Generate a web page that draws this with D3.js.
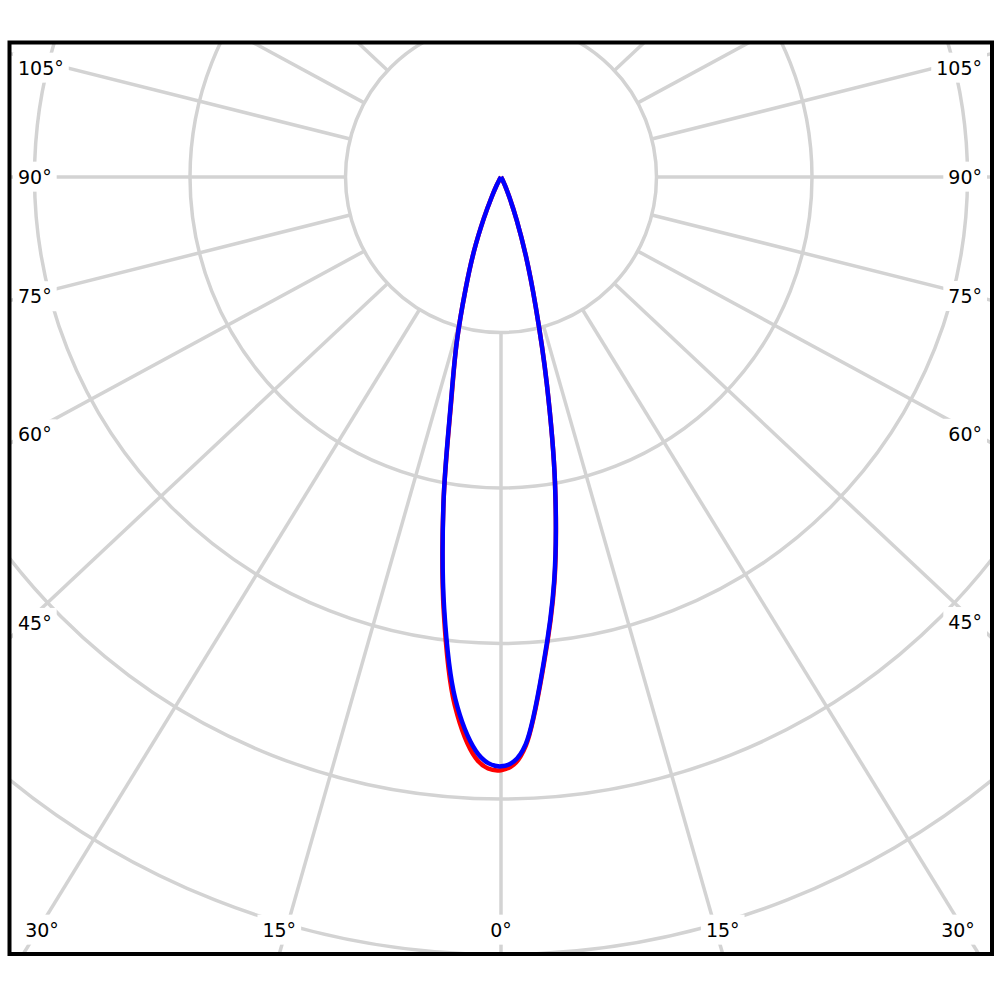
<!DOCTYPE html>
<html>
<head>
<meta charset="utf-8">
<script src="https://cdn.jsdelivr.net/npm/d3@7"></script>
<style>
body { margin: 0; background: #fff; }
svg text { font-family: "DejaVu Sans", sans-serif; font-size: 19px; fill: #000; }
</style>
</head>
<body>
<div id="chart"><svg width="1000" height="1000"></svg></div>
<script>
// gamma angles (deg from nadir) and intensities per half plane
const angles = [0, 1.25, 2.5, 5, 7.5, 10, 12.5, 15, 17.5, 20, 22.5, 25, 27.5, 30, 35, 40, 45, 50, 55, 60, 65, 70, 75, 80, 85, 90];
const redLeft   = [381.5, 380.5, 374, 341, 282, 213, 148, 110, 76, 51, 29, 14, 6, 2, 0.5, 0, 0, 0, 0, 0, 0, 0, 0, 0, 0, 0];
const redRight  = [381.5, 378, 366, 315, 263, 200, 136, 86, 53, 29.5, 14, 6, 2.5, 1, 0.5, 0, 0, 0, 0, 0, 0, 0, 0, 0, 0, 0];
const blueLeft  = [379, 377, 369.5, 337, 280, 213, 149, 110, 76, 51, 29, 14, 6, 2, 0.5, 0, 0, 0, 0, 0, 0, 0, 0, 0, 0, 0];
const blueRight = [379, 376, 365, 314, 262, 200, 136, 86, 53, 29.5, 14, 6, 2.5, 1, 0.5, 0, 0, 0, 0, 0, 0, 0, 0, 0, 0, 0];
const ringValues = [100, 200, 300, 400, 500];
const spokeAngles = d3.range(0, 360, 15);
const bottomTicks = [-30, -15, 0, 15, 30];
const sideTicks = [45, 60, 75, 90, 105];

const svg = d3.select("#chart svg");
const frame = {x0: 9.5, y0: 42.5, x1: 992, y1: 954};
const cx = 501, cy = 177;
const stretch = 1.065; // spokes are drawn slightly wider than the rings

const r = d3.scaleLinear().domain([0, 500]).range([0, 777.5]);

svg.append("clipPath").attr("id", "clip")
    .append("rect")
    .attr("x", frame.x0).attr("y", frame.y0)
    .attr("width", frame.x1 - frame.x0).attr("height", frame.y1 - frame.y0);

const plot = svg.append("g").attr("clip-path", "url(#clip)");
const g = plot.append("g").attr("transform", `translate(${cx},${cy})`);

// direction of a spoke, angle measured from straight down
function dir(deg) {
    const a = deg * Math.PI / 180;
    const dx = stretch * Math.sin(a), dy = Math.cos(a);
    const n = Math.hypot(dx, dy);
    return [dx / n, dy / n];
}

// Rings
g.selectAll("circle.ring")
    .data(ringValues)
    .enter()
    .append("circle")
    .attr("class", "ring")
    .attr("r", d => r(d))
    .attr("fill", "none")
    .attr("stroke", "#d3d3d3")
    .attr("stroke-width", 3.5);

// Spokes, starting at the first ring
g.selectAll("line.spoke")
    .data(spokeAngles)
    .enter()
    .append("line")
    .attr("class", "spoke")
    .attr("x1", d => dir(d)[0] * r(ringValues[0]))
    .attr("y1", d => dir(d)[1] * r(ringValues[0]))
    .attr("x2", d => dir(d)[0] * 2000)
    .attr("y2", d => dir(d)[1] * 2000)
    .attr("stroke", "#d3d3d3")
    .attr("stroke-width", 3.5);

// Curves: left half from 90 down to 0, then right half 0 to 90
function curvePoints(left, right) {
    const pts = [];
    for (let i = angles.length - 1; i > 0; i--) pts.push({a: -angles[i], v: left[i]});
    angles.forEach((a, i) => pts.push({a: a, v: right[i]}));
    return pts;
}

const radial = d3.lineRadial()
    .angle(d => Math.PI - d.a * Math.PI / 180)
    .radius(d => r(d.v))
    .curve(d3.curveCatmullRom);

const series = [
    {left: redLeft, right: redRight, color: "#ff0000"},
    {left: blueLeft, right: blueRight, color: "#0000ff"}
];

g.selectAll("path.curve")
    .data(series)
    .enter()
    .append("path")
    .attr("class", "curve")
    .attr("d", d => radial(curvePoints(d.left, d.right)))
    .attr("fill", "none")
    .attr("stroke", d => d.color)
    .attr("stroke-width", 4.5)
    .attr("stroke-linejoin", "round");

// Angle labels with white boxes
const labels = svg.append("g");

function addLabel(text, x, y, anchor) {
    const grp = labels.append("g");
    const t = grp.append("text")
        .attr("x", x).attr("y", y)
        .attr("dy", "0.35em")
        .attr("text-anchor", anchor)
        .text(text);
    const b = t.node().getBBox();
    grp.insert("rect", "text")
        .attr("x", b.x - 5).attr("y", b.y - 4)
        .attr("width", b.width + 10).attr("height", b.height + 8)
        .attr("fill", "#fff");
}

bottomTicks.forEach(d => {
    const [dx, dy] = dir(d);
    const hitX = cx + dx * (frame.y1 - cy) / dy;
    addLabel(Math.abs(d) + "°", Math.max(42, Math.min(958, hitX)), 930, "middle");
});

sideTicks.forEach(d => {
    [-1, 1].forEach(side => {
        const [dx, dy] = dir(d * side);
        const edge = side < 0 ? frame.x0 + 1.5 : frame.x1 - 2;
        const hitY = cy + dy * (edge - cx) / dx;
        const y = Math.max(68, cy + (hitY - cy) * 0.97);
        addLabel(d + "°", side < 0 ? 18 : 982, y, side < 0 ? "start" : "end");
    });
});

// Frame
svg.append("rect")
    .attr("x", frame.x0).attr("y", frame.y0)
    .attr("width", frame.x1 - frame.x0).attr("height", frame.y1 - frame.y0)
    .attr("fill", "none")
    .attr("stroke", "#000")
    .attr("stroke-width", 4);
</script>
</body>
</html>
